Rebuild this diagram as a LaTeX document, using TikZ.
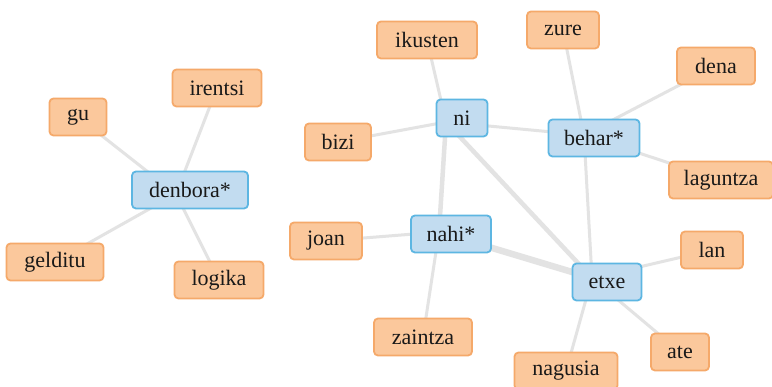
\documentclass[tikz,border=0pt]{standalone}
\usepackage{fontspec}
\setmainfont{Liberation Serif}
\usetikzlibrary{backgrounds}
\definecolor{ofill}{HTML}{FBC89C}
\definecolor{odraw}{HTML}{F5A96A}
\definecolor{bfill}{HTML}{C2DCF0}
\definecolor{bdraw}{HTML}{5DB6E2}
\definecolor{edge}{HTML}{E3E3E3}
\tikzset{
  base/.style={rounded corners=4pt, line width=1.8pt, minimum height=37pt, inner sep=0pt,
    font=\fontsize{22}{23}\selectfont, text=black!90},
  leaf/.style={base, fill=ofill, draw=odraw},
  hub/.style={base, fill=bfill, draw=bdraw},
  link/.style={draw=edge, line width=3pt},
  strong/.style={draw=edge, line width=4.5pt},
  heavy/.style={draw=edge, line width=6.5pt},
}
\begin{document}
\begin{tikzpicture}[x=1pt,y=-1pt]
\useasboundingbox (0,0) rectangle (772,387);
% hubs
\node[hub, minimum width=116pt] (denbora) at (190,190) {denbora*};
\node[hub, minimum width=51pt] (ni) at (462,118) {ni};
\node[hub, minimum width=80pt] (nahi) at (451,234) {nahi*};
\node[hub, minimum width=91pt] (behar) at (594,138) {behar*};
\node[hub, minimum width=69pt] (etxe) at (607,282) {etxe};
% leaves
\node[leaf, minimum width=57pt] (gu) at (78,117) {gu};
\node[leaf, minimum width=89pt] (irentsi) at (217,88) {irentsi};
\node[leaf, minimum width=97pt] (gelditu) at (55,262) {gelditu};
\node[leaf, minimum width=89pt] (logika) at (219,280) {logika};
\node[leaf, minimum width=100pt] (ikusten) at (427,40) {ikusten};
\node[leaf, minimum width=66pt] (bizi) at (338,142) {bizi};
\node[leaf, minimum width=72pt] (joan) at (326,241) {joan};
\node[leaf, minimum width=98pt] (zaintza) at (423,337) {zaintza};
\node[leaf, minimum width=72pt] (zure) at (563,30) {zure};
\node[leaf, minimum width=78pt] (dena) at (716,66) {dena};
\node[leaf, minimum width=104pt] (laguntza) at (721,180) {laguntza};
\node[leaf, minimum width=62pt] (lan) at (712,250) {lan};
\node[leaf, minimum width=58pt] (ate) at (680,352) {ate};
\node[leaf, minimum width=103pt] (nagusia) at (566,371) {nagusia};
% edge anchor points of the hubs
\coordinate (denboraP) at ([shift={(-14,4)}]denbora.center);
\coordinate (niP) at ([shift={(-16,4)}]ni.center);
\coordinate (naheP) at ([shift={(-12,-2)}]nahi.center);
\coordinate (beharP) at ([shift={(-10,-3)}]behar.center);
\coordinate (etxeP) at ([shift={(-15,-4)}]etxe.center);
% edges
\begin{scope}[on background layer]
\fill[white] (0,0) rectangle (772,387);
\draw[link] (denboraP) -- (gu.center);
\draw[link] (denboraP) -- (irentsi.center);
\draw[link] (denboraP) -- (gelditu.center);
\draw[link] (denboraP) -- (logika.center);
\draw[link] (niP) -- (ikusten.center);
\draw[link] (niP) -- (bizi.center);
\draw[link] (niP) -- (beharP);
\draw[strong] (niP) -- (naheP);
\draw[strong] (niP) -- (etxeP);
\draw[link] (beharP) -- (zure.center);
\draw[link] (beharP) -- (dena.center);
\draw[link] (beharP) -- (laguntza.center);
\draw[link] (beharP) -- (etxeP);
\draw[link] (naheP) -- (joan.center);
\draw[link] (naheP) -- (zaintza.center);
\draw[heavy] (naheP) -- (etxeP);
\draw[link] (etxeP) -- (lan.center);
\draw[link] (etxeP) -- (ate.center);
\draw[link] (etxeP) -- (nagusia.center);
\end{scope}
\end{tikzpicture}
\end{document}
